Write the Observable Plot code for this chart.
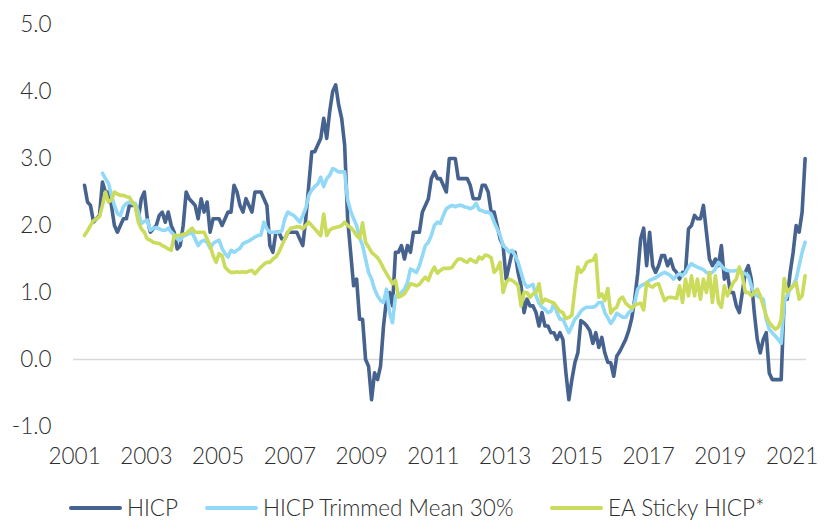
<!DOCTYPE html>
<html>
<head>
<meta charset="utf-8">
<script src="https://cdn.jsdelivr.net/npm/d3@7"></script>
<script src="https://cdn.jsdelivr.net/npm/@observablehq/plot@0.6"></script>
<style>
  html, body { margin: 0; padding: 0; background: #fff; }
  #wrap { position: relative; width: 825px; height: 521px; overflow: hidden; font-family: Lato, "Open Sans", sans-serif; }
  #legend { position: absolute; left: 0; top: 495px; height: 26px; width: 825px; font-size: 22.5px; line-height: 26px; color: #2e2e2e; font-weight: 300; }
  .item { display: flex; align-items: center; height: 26px; top: 0; }
  .sw { width: 53px; height: 4px; border-radius: 2px; margin-right: 5px; }
</style>
</head>
<body>
<div id="wrap">
  <div id="chart"></div>
  <div id="legend"></div>
</div>
<script>
// Monthly annual rates, %, from Jul 2001 (HICP, Sticky) and Jan 2002 (Trimmed mean) to Aug 2021
const seriesNames = ["HICP", "HICP Trimmed Mean 30%", "EA Sticky HICP*"];
const seriesColors = ["#46628e", "#92d9f8", "#cbdb5c"];
const yTicks = [-1, 0, 1, 2, 3, 4, 5];
const xTickYears = [2001, 2003, 2005, 2007, 2009, 2011, 2013, 2015, 2017, 2019, 2021];

const hicp = [
  2.6, 2.35, 2.3, 2.05, 2.1, 2.15,
  2.65, 2.5, 2.5, 2.3, 2.0, 1.9, 2.0, 2.1, 2.1, 2.3, 2.3, 2.3,
  2.1, 2.4, 2.5, 2.1, 1.9, 1.95, 2.0, 2.15, 2.2, 2.05, 2.2, 2.0,
  1.9, 1.65, 1.7, 2.0, 2.5, 2.4, 2.35, 2.3, 2.1, 2.4, 2.2, 2.35,
  1.9, 2.1, 2.1, 2.1, 2.0, 2.1, 2.2, 2.2, 2.6, 2.5, 2.3, 2.2,
  2.4, 2.3, 2.2, 2.5, 2.5, 2.5, 2.4, 2.3, 1.7, 1.6, 1.9, 1.9,
  1.8, 1.8, 1.9, 1.9, 1.9, 1.9, 1.8, 1.7, 2.1, 2.6, 3.1, 3.1,
  3.2, 3.3, 3.6, 3.3, 3.7, 4.0, 4.1, 3.8, 3.6, 3.2, 2.1, 1.6,
  1.1, 1.2, 0.6, 0.6, 0.0, -0.1, -0.6, -0.2, -0.3, -0.1, 0.5, 0.9,
  1.0, 0.8, 1.6, 1.6, 1.7, 1.5, 1.7, 1.6, 1.9, 1.9, 1.9, 2.2,
  2.3, 2.4, 2.7, 2.8, 2.7, 2.7, 2.6, 2.5, 3.0, 3.0, 3.0, 2.7,
  2.7, 2.7, 2.7, 2.6, 2.4, 2.4, 2.4, 2.6, 2.6, 2.5, 2.2, 2.2,
  2.0, 1.8, 1.7, 1.2, 1.4, 1.6, 1.6, 1.3, 1.1, 0.7, 0.9, 0.8,
  0.8, 0.7, 0.5, 0.7, 0.5, 0.5, 0.4, 0.4, 0.3, 0.4, 0.3, -0.2,
  -0.6, -0.3, -0.05, 0.1, 0.58, 0.55, 0.5, 0.43, 0.24, 0.4, 0.18, 0.33,
  0.1, -0.04, -0.05, -0.25, 0.05, 0.12, 0.21, 0.3, 0.43, 0.61, 0.9, 1.28,
  1.8, 1.96, 1.4, 1.9, 1.4, 1.3, 1.4, 1.55, 1.55, 1.4, 1.5, 1.35,
  1.3, 1.2, 1.3, 1.3, 1.95, 2.0, 2.15, 2.1, 2.1, 2.3, 1.9, 1.5,
  1.4, 1.5, 1.4, 1.7, 1.2, 1.3, 1.0, 1.0, 0.8, 0.7, 1.0, 1.3,
  1.4, 1.2, 0.7, 0.3, 0.1, 0.3, 0.4, -0.2, -0.3, -0.3, -0.3, -0.3,
  0.9, 0.9, 1.3, 1.6, 2.0, 1.9, 2.2, 3.0
];

const trimmed = [
  2.78, 2.7, 2.63, 2.45, 2.3, 2.18, 2.15, 2.28, 2.33, 2.35, 2.33, 2.33,
  2.2, 2.03, 2.06, 2.08, 1.93, 1.96, 1.97, 1.95, 1.93, 1.93, 1.96, 1.9,
  1.86, 1.8, 1.78, 1.84, 1.86, 1.88, 1.89, 1.8, 1.7, 1.76, 1.78, 1.75,
  1.66, 1.73, 1.76, 1.78, 1.66, 1.58, 1.53, 1.63, 1.6, 1.63, 1.66, 1.73,
  1.75, 1.77, 1.8, 1.83, 1.85, 1.86, 2.05, 1.95, 1.9, 1.9, 1.9, 1.9,
  1.92, 2.1, 2.2, 2.17, 2.15, 2.1, 2.05, 2.15, 2.26, 2.45, 2.53, 2.58,
  2.62, 2.72, 2.58, 2.7, 2.75, 2.85, 2.83, 2.8, 2.8, 2.8, 2.38, 2.22,
  2.1, 2.0, 1.82, 1.7, 1.5, 1.3, 1.2, 1.05, 0.95, 0.88, 0.85, 1.05,
  0.7, 0.55, 0.95, 0.97, 1.0, 1.05, 1.15, 1.35, 1.33, 1.3, 1.4, 1.55,
  1.7, 1.75, 1.85, 2.0, 2.05, 2.03, 2.15, 2.25, 2.28, 2.3, 2.28, 2.3,
  2.3, 2.28, 2.27, 2.25, 2.27, 2.33, 2.23, 2.22, 2.2, 2.2, 2.17, 2.05,
  1.95, 1.85, 1.7, 1.66, 1.6, 1.63, 1.55, 1.45, 1.3, 1.15, 1.08, 1.1,
  1.12, 0.95, 0.84, 0.78, 0.75, 0.7, 0.72, 0.84, 0.7, 0.6, 0.6, 0.5,
  0.4, 0.5, 0.6, 0.65, 0.72, 0.76, 0.78, 0.78, 0.78, 0.8, 0.85, 0.85,
  0.7, 0.62, 0.54, 0.6, 0.69, 0.66, 0.63, 0.63, 0.7, 0.73, 0.85, 1.05,
  1.1, 1.12, 1.14, 1.18, 1.2, 1.22, 1.25, 1.28, 1.3, 1.28, 1.25, 1.2,
  1.25, 1.28, 1.25, 1.3, 1.38, 1.43, 1.4, 1.38, 1.36, 1.34, 1.3, 1.28,
  1.3, 1.35, 1.45, 1.4, 1.35, 1.33, 1.32, 1.32, 1.33, 1.34, 1.3, 1.28,
  1.25, 1.1, 0.98, 0.95, 0.92, 0.9, 0.6, 0.45, 0.4, 0.35, 0.3, 0.24,
  0.85, 0.95, 1.05, 1.1, 1.2, 1.4, 1.6, 1.75
];

const sticky = [
  1.85, 1.92, 2.0, 2.07, 2.1, 2.13,
  2.3, 2.5, 2.35, 2.38, 2.5, 2.47, 2.45, 2.45, 2.43, 2.42, 2.35, 2.28,
  2.05, 1.95, 1.9, 1.8, 1.78, 1.75, 1.74, 1.73, 1.7, 1.68, 1.65, 1.63,
  1.85, 1.85, 1.85, 1.87, 1.88, 1.92, 1.96, 1.9, 1.9, 1.9, 1.9, 1.8,
  1.7, 1.55, 1.45, 1.58, 1.55, 1.38, 1.33, 1.3, 1.3, 1.31, 1.3, 1.31,
  1.3, 1.32, 1.33, 1.28, 1.33, 1.38, 1.42, 1.45, 1.45, 1.5, 1.53, 1.6,
  1.7, 1.8, 1.9, 1.96, 1.97, 1.98, 1.98, 1.95, 2.0, 2.05, 2.0, 1.95,
  1.9, 1.85, 2.17, 1.85, 1.93, 1.96, 1.97, 1.98, 2.0, 2.05, 2.0, 1.97,
  1.92, 1.85, 1.81, 2.04, 1.75, 1.68, 1.6, 1.56, 1.52, 1.45, 1.36, 1.28,
  1.21, 1.13, 1.18, 0.93, 0.95, 0.98, 1.05, 1.13, 1.12, 1.1, 1.12, 1.18,
  1.23, 1.18, 1.3, 1.38, 1.29, 1.33, 1.36, 1.36, 1.36, 1.38, 1.45, 1.5,
  1.5, 1.47, 1.45, 1.5, 1.47, 1.45, 1.53, 1.5, 1.56, 1.55, 1.52, 1.3,
  1.35, 1.45, 1.0, 1.15, 1.2, 1.18, 1.15, 1.1, 0.8, 1.0, 1.0, 0.93,
  0.98, 1.0, 1.13, 0.84, 0.9, 0.88, 0.86, 0.84, 0.78, 0.72, 0.7, 0.61,
  0.63, 0.66, 1.05, 1.38, 1.3, 1.35, 1.45, 1.47, 1.48, 1.56, 0.93, 0.98,
  0.88, 1.06, 0.69, 0.75, 0.78, 0.9, 0.93, 0.84, 0.8, 0.76, 0.81, 0.83,
  0.84, 0.74, 1.15, 1.1, 1.08, 1.12, 1.13, 1.0, 0.88, 0.92, 0.93, 0.92,
  0.91, 1.1, 0.85, 1.2, 0.95, 1.25, 0.95, 1.2, 0.9, 1.2, 1.0, 1.3,
  0.85, 1.25, 0.85, 0.78, 1.1, 0.95, 1.05, 1.15, 1.2, 1.38, 1.25, 1.0,
  1.0, 0.95, 1.0, 1.05, 0.95, 0.8, 0.65, 0.55, 0.5, 0.45, 0.48, 0.6,
  1.21, 1.0, 1.05, 1.1, 1.15, 0.9, 0.95, 1.25
];

const toRows = (arr, startYear, name) => arr.map((v, i) => ({t: startYear + i / 12, v, name}));
const rows = [
  ...toRows(hicp, 2001.5, seriesNames[0]),
  ...toRows(trimmed, 2002, seriesNames[1]),
  ...toRows(sticky, 2001.5, seriesNames[2])
];

const chart = Plot.plot({
  width: 825,
  height: 490,
  marginTop: 24,
  marginBottom: 64,
  marginLeft: 73,
  marginRight: 19,
  style: {fontFamily: "Lato, 'Open Sans', sans-serif", fontSize: "22.5px", fontWeight: 300, color: "#2e2e2e", background: "#fff"},
  x: {domain: [2001.193, 2021.622]},
  y: {domain: [-1, 5]},
  color: {domain: seriesNames, range: seriesColors},
  marks: [
    Plot.ruleY([0], {stroke: "#d9d9d9", strokeWidth: 1.5}),
    Plot.line(rows, {x: "t", y: "v", z: "name", stroke: "name", strokeWidth: 3.6, strokeLinejoin: "round", strokeLinecap: "round"}),
    Plot.axisY(yTicks, {tickSize: 0, tickPadding: 22, tickFormat: d => d.toFixed(1), fill: "#2e2e2e", fontSize: 22.5, fontWeight: 300, label: null}),
    Plot.axisX(xTickYears, {tickSize: 0, tickPadding: 22, dx: 8, tickFormat: d => String(d), fill: "#2e2e2e", fontSize: 22.5, fontWeight: 300, label: null})
  ]
});
document.getElementById("chart").appendChild(chart);

// legend with fixed slots
const slots = [{left: 69, width: 136}, {left: 205, width: 345}, {left: 550, width: 260}];
const leg = document.getElementById("legend");
seriesNames.forEach((n, i) => {
  const it = document.createElement("div");
  it.className = "item";
  it.style.position = "absolute";
  it.style.left = slots[i].left + "px";
  it.style.width = slots[i].width + "px";
  const sw = document.createElement("div");
  sw.className = "sw";
  sw.style.background = seriesColors[i];
  const tx = document.createElement("span");
  tx.textContent = n;
  it.appendChild(sw);
  it.appendChild(tx);
  leg.appendChild(it);
});
</script>
</body>
</html>
